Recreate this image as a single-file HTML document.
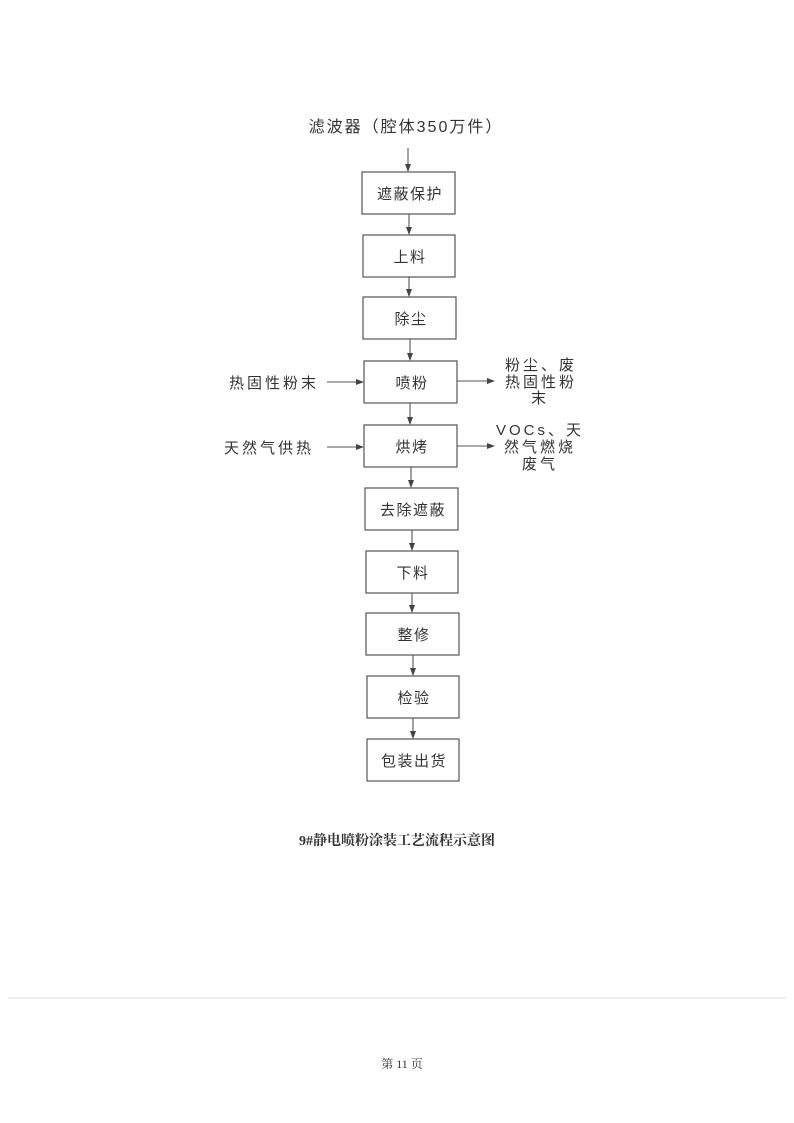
<!DOCTYPE html>
<html><head><meta charset="utf-8"><style>
body{margin:0;background:#fff}
svg{display:block}
text{font-family:"Liberation Sans","Noto Sans CJK SC",sans-serif;fill:#333}
</style></head><body>
<svg width="794" height="1123" viewBox="0 0 794 1123" xmlns="http://www.w3.org/2000/svg">
<defs><marker id="a" markerWidth="8" markerHeight="8" refX="7" refY="4" orient="auto" markerUnits="userSpaceOnUse"><path d="M0,1 L8,4 L0,7z" fill="#444"/></marker></defs>
<g stroke="#555" stroke-width="1.2" fill="none">
<rect x="362" y="172" width="93" height="42"/>
<rect x="363" y="235" width="92" height="42"/>
<rect x="363" y="297" width="93" height="42"/>
<rect x="364" y="361" width="93" height="42"/>
<rect x="364" y="425" width="93" height="42"/>
<rect x="365" y="488" width="93" height="42"/>
<rect x="366" y="551" width="92" height="42"/>
<rect x="366" y="613" width="93" height="42"/>
<rect x="367" y="676" width="92" height="42"/>
<rect x="367" y="739" width="92" height="42"/>
</g>
<g stroke="#555" stroke-width="1.1" marker-end="url(#a)">
<line x1="408" y1="148" x2="408" y2="171"/>
<line x1="409" y1="214" x2="409" y2="234"/>
<line x1="409" y1="277" x2="409" y2="296"/>
<line x1="410" y1="339" x2="410" y2="360"/>
<line x1="410" y1="403" x2="410" y2="424"/>
<line x1="411" y1="467" x2="411" y2="487"/>
<line x1="412" y1="530" x2="412" y2="550"/>
<line x1="412" y1="593" x2="412" y2="612"/>
<line x1="413" y1="655" x2="413" y2="675"/>
<line x1="413" y1="718" x2="413" y2="738"/>
<line x1="327" y1="382" x2="363" y2="382"/>
<line x1="457" y1="381" x2="494" y2="381"/>
<line x1="327" y1="447" x2="363" y2="447"/>
<line x1="457" y1="446" x2="494" y2="446"/>
</g>
<g font-size="15" text-anchor="middle">
<text x="406" y="132" font-size="16" letter-spacing="2">滤波器（腔体350万件）</text>
<g letter-spacing="1.5">
<text x="410" y="199">遮蔽保护</text>
<text x="410" y="262">上料</text>
<text x="411" y="324">除尘</text>
<text x="412" y="388">喷粉</text>
<text x="412" y="452">烘烤</text>
<text x="413" y="515">去除遮蔽</text>
<text x="413" y="578">下料</text>
<text x="414" y="640">整修</text>
<text x="414" y="703">检验</text>
<text x="414" y="766">包装出货</text>
</g>
<g letter-spacing="3">
<text x="274" y="388">热固性粉末</text>
<text x="269" y="453">天然气供热</text>
<text x="541" y="370">粉尘、废</text>
<text x="541" y="387">热固性粉</text>
<text x="540" y="403">末</text>
<text x="540" y="435">VOCs、天</text>
<text x="540" y="452">然气燃烧</text>
<text x="540" y="469">废气</text>
</g>
</g>
<text x="397" y="845" font-size="14" font-weight="bold" text-anchor="middle" style="font-family:'Liberation Serif','Noto Serif CJK SC',serif">9#静电喷粉涂装工艺流程示意图</text>
<line x1="8" y1="998" x2="786" y2="998" stroke="#d8dcea" stroke-width="1"/>
<text x="402" y="1068" font-size="12" text-anchor="middle" style="font-family:'Liberation Serif','Noto Serif CJK SC',serif">第 11 页</text>
</svg>
</body></html>
